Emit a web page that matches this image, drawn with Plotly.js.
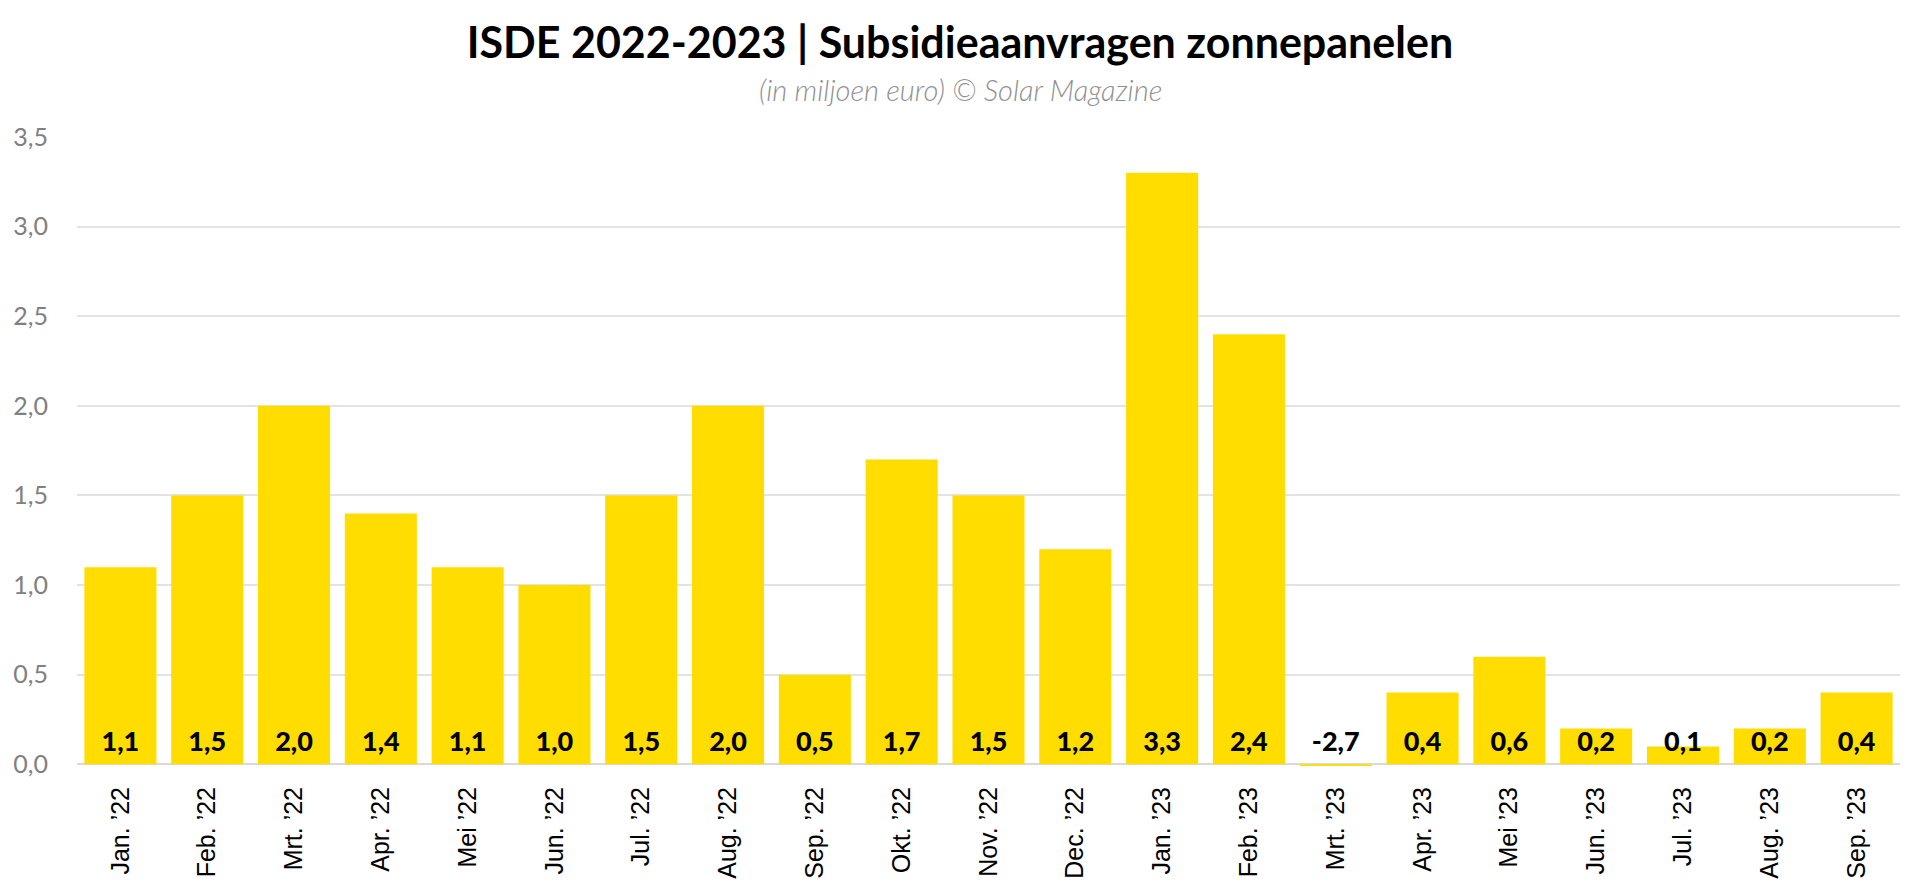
<!DOCTYPE html>
<html>
<head>
<meta charset="utf-8">
<script src="https://cdn.plot.ly/plotly-3.0.1.min.js"></script>
<style>html,body{margin:0;padding:0;background:#fff;}#chart{width:1920px;height:896px;}</style>
</head>
<body>
<div id="chart"></div>
<script>
const categories = ["Jan. ’22","Feb. ’22","Mrt. ’22","Apr. ’22","Mei ’22","Jun. ’22","Jul. ’22","Aug. ’22","Sep. ’22","Okt. ’22","Nov. ’22","Dec. ’22","Jan. ’23","Feb. ’23","Mrt. ’23","Apr. ’23","Mei ’23","Jun. ’23","Jul. ’23","Aug. ’23","Sep. ’23"];
const values = [1.1, 1.5, 2.0, 1.4, 1.1, 1.0, 1.5, 2.0, 0.5, 1.7, 1.5, 1.2, 3.3, 2.4, -0.01, 0.4, 0.6, 0.2, 0.1, 0.2, 0.4];
const valueLabels = ["1,1","1,5","2,0","1,4","1,1","1,0","1,5","2,0","0,5","1,7","1,5","1,2","3,3","2,4","-2,7","0,4","0,6","0,2","0,1","0,2","0,4"];
const labelLevel = 0.11;

const bars = {
  type: 'bar',
  x: categories,
  y: values,
  marker: {color: '#FFDD00', line: {width: 0}},
  hoverinfo: 'x+y',
  showlegend: false
};
const labels = {
  type: 'scatter',
  mode: 'text',
  x: categories,
  y: categories.map(() => labelLevel),
  text: valueLabels,
  textposition: 'middle center',
  textfont: {family: 'Lato', size: 27, color: '#000', weight: 900},
  hoverinfo: 'skip',
  showlegend: false
};

const plotLeft = 77, plotRight = 1900, plotTop = 137, plotBottom = 767;

const layout = {
  width: 1920,
  height: 896,
  paper_bgcolor: '#fff',
  plot_bgcolor: '#fff',
  separators: ',.',
  bargap: 0.17,
  margin: {l: plotLeft, r: 1920 - plotRight, t: plotTop, b: 896 - plotBottom},
  title: {
    text: '<b>ISDE 2022-2023 | Subsidieaanvragen zonnepanelen</b>',
    x: 0.5, xref: 'container', xanchor: 'center',
    y: 1 - 43/896, yref: 'container', yanchor: 'middle',
    font: {family: 'Lato', size: 43, color: '#000'}
  },
  annotations: [{
    text: '<i>(in miljoen euro) © Solar Magazine</i>',
    xref: 'paper', yref: 'paper',
    x: (960 - plotLeft) / (plotRight - plotLeft), y: (plotBottom - 89) / (plotBottom - plotTop),
    xanchor: 'center', yanchor: 'middle',
    showarrow: false,
    font: {family: 'Lato', size: 29, color: '#8f8f8f', weight: 300}
  }],
  xaxis: {
    type: 'category',
    range: [-0.5, 20.5],
    tickangle: -90,
    tickfont: {family: 'Liberation Sans', size: 25, color: '#000'},
    ticks: '',
    showgrid: false,
    showline: false,
    ticklabelstandoff: 14,
    fixedrange: true
  },
  yaxis: {
    range: [-0.015, 3.5],
    dtick: 0.5,
    tick0: 0,
    tickformat: '.1f',
    tickfont: {family: 'Lato', size: 25, color: '#808080'},
    gridcolor: '#e3e3e3',
    gridwidth: 2,
    zeroline: true,
    zerolinecolor: '#d9d9d9',
    zerolinewidth: 2,
    ticks: '',
    showline: false,
    ticklabelstandoff: 28,
    fixedrange: true
  }
};

Plotly.newPlot('chart', [bars, labels], layout, {displayModeBar: false, staticPlot: true});
</script>
</body>
</html>
